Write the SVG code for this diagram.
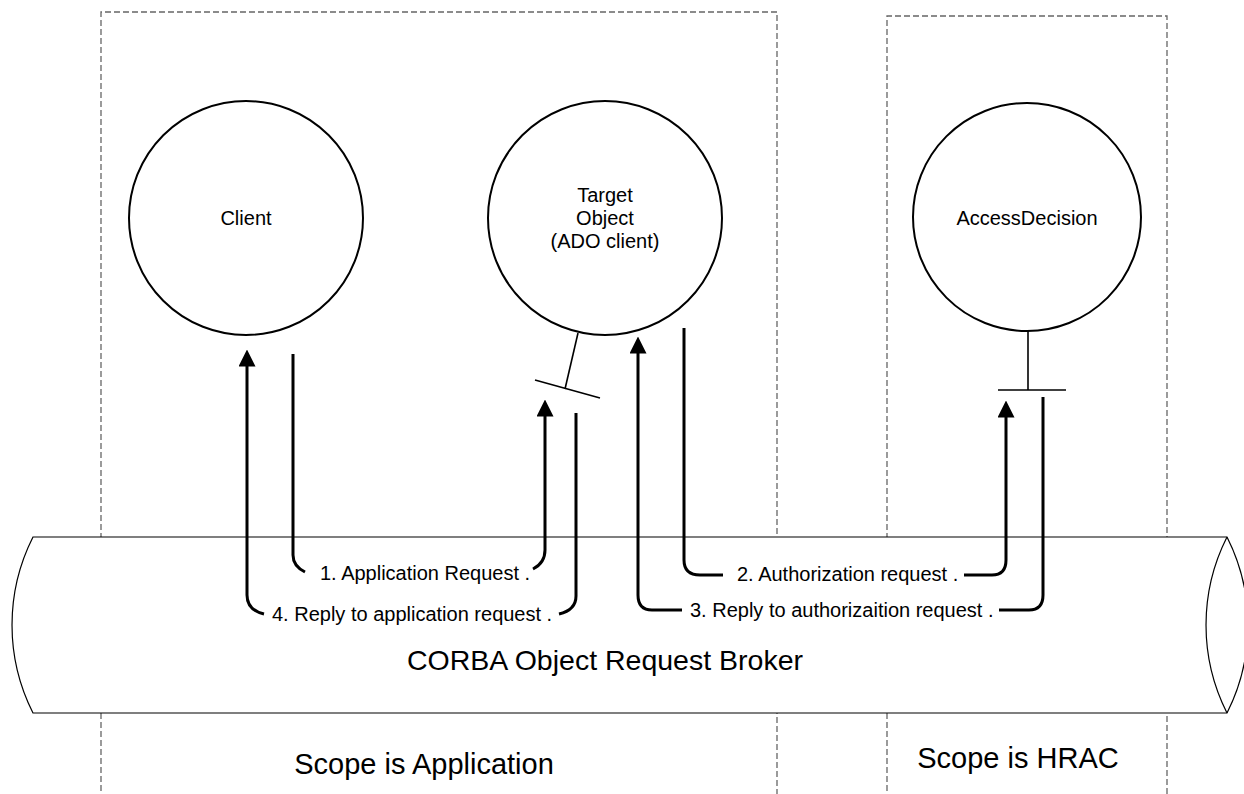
<svg xmlns="http://www.w3.org/2000/svg" width="1244" height="794" viewBox="0 0 1244 794">
<style>
.scope{fill:none;stroke:#666;stroke-width:1.3;stroke-dasharray:6,3}
.pipe{fill:#fff;stroke:#000;stroke-width:1.2}
.node{fill:#fff;stroke:#000;stroke-width:2}
.sock{fill:none;stroke:#000;stroke-width:1.6}
.conn{fill:none;stroke:#000;stroke-width:3}
text{font-family:"Liberation Sans",Arial,sans-serif;fill:#000}
.lbl{font-size:20px}
.big{font-size:29px}
</style>
<defs>
<marker id="ah" viewBox="0 0 17 17" refX="0.5" refY="8.5" markerWidth="17" markerHeight="17" markerUnits="userSpaceOnUse" orient="auto">
<path d="M0,0 L17,8.5 L0,17 Z" fill="#000"/>
</marker>
</defs>
<rect width="1244" height="794" fill="#fff"/>
<g id="scope-application"><path class="scope" d="M101,800 V12 H777 V800"/></g>
<g id="scope-hrac"><path class="scope" d="M887,800 V16 H1167 V800"/></g>
<g id="orb">
<path class="pipe" d="M33,537 H1227 A195,195 0 0 1 1227,713 H33 A195,195 0 0 1 33,537 Z"/>
<path class="pipe" fill="none" d="M1227,537 A195,195 0 0 0 1227,713"/>
<text class="big" x="605" y="670" text-anchor="middle" style="font-size:28.5px">CORBA Object Request Broker</text>
</g>
<g id="client">
<circle class="node" cx="246" cy="218" r="117"/>
<text class="lbl" x="246" y="225" text-anchor="middle">Client</text>
</g>
<g id="target">
<circle class="node" cx="605" cy="218" r="117"/>
<text class="lbl" text-anchor="middle"><tspan x="605" y="202">Target</tspan><tspan x="605" y="225">Object</tspan><tspan x="605" y="248">(ADO client)</tspan></text>
<line class="sock" x1="578" y1="333" x2="565" y2="389"/>
<line class="sock" x1="535" y1="380" x2="600" y2="398"/>
</g>
<g id="access-decision">
<circle class="node" cx="1027" cy="217" r="114"/>
<text class="lbl" x="1027" y="225" text-anchor="middle">AccessDecision</text>
<line class="sock" x1="1028" y1="331" x2="1028" y2="390"/>
<line class="sock" x1="998" y1="390" x2="1066" y2="390"/>
</g>
<g id="connectors">
<path class="conn" d="M293,354 V555 Q293,566 305,572"/>
<path class="conn" d="M533,569 Q545,563 545,550 V416" marker-end="url(#ah)"/>
<path class="conn" d="M264,614 Q247,610 247,595 V366" marker-end="url(#ah)"/>
<path class="conn" d="M576,413 V596 Q576,610 559,614"/>
<path class="conn" d="M684,328 V560 Q684,575 700,575 H723"/>
<path class="conn" d="M964,575 H992 Q1006,575 1006,560 V417" marker-end="url(#ah)"/>
<path class="conn" d="M682,610 H652 Q638,610 638,595 V353" marker-end="url(#ah)"/>
<path class="conn" d="M999,610 H1029 Q1043,610 1043,595 V397"/>
<text class="lbl" x="320" y="580">1. Application Request .</text>
<text class="lbl" x="737" y="581">2. Authorization request .</text>
<text class="lbl" x="690" y="617">3. Reply to authorizaition request .</text>
<text class="lbl" x="272" y="621">4. Reply to application request .</text>
</g>
<text class="big" x="424" y="774" text-anchor="middle">Scope is Application</text>
<text class="big" x="1018" y="768" text-anchor="middle">Scope is HRAC</text>
</svg>
